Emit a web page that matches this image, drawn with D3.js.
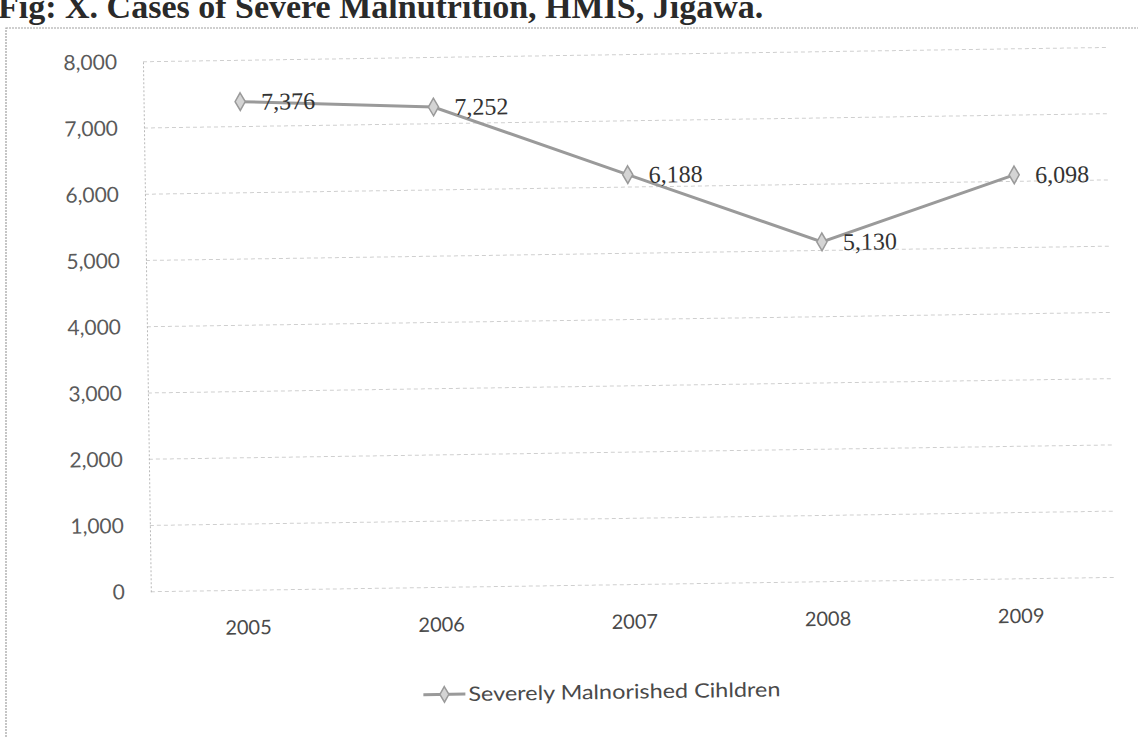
<!DOCTYPE html>
<html>
<head>
<meta charset="utf-8">
<script src="https://cdn.jsdelivr.net/npm/d3@7"></script>
<style>
  body { margin: 0; background: #fff; }
  svg { display: block; }
</style>
</head>
<body>
<svg id="chart"></svg>
<script>
// Figure title and series
const titleText = "Fig: X. Cases of Severe Malnutrition, HMIS, Jigawa.";
const seriesName = "Severely Malnorished Cihldren";
const years = ["2005", "2006", "2007", "2008", "2009"];
const cases = [7376, 7252, 6188, 5130, 6098];
const yTicks = [0, 1000, 2000, 3000, 4000, 5000, 6000, 7000, 8000];

const width = 1138;
const height = 737;
const plot = { left: 147, right: 1113, top: 55, bottom: 585 };

const chart = d3.select("#chart")
  .attr("width", width)
  .attr("height", height);

// title sits above the chart frame, top of it runs off the page
chart.append("text")
  .attr("x", -2)
  .attr("y", 18)
  .attr("font-family", "'Liberation Serif', 'Times New Roman', serif")
  .attr("font-weight", "bold")
  .attr("font-size", 34)
  .attr("fill", "#2a2a2a")
  .text(titleText);

// frame border
chart.append("rect")
  .attr("x", 6)
  .attr("y", 28)
  .attr("width", 1180)
  .attr("height", 760)
  .attr("fill", "none")
  .attr("stroke", "#a0a0a0")
  .attr("stroke-width", 1.2)
  .attr("stroke-dasharray", "2,1");

// the plotted chart is tilted slightly
const g = chart.append("g")
  .attr("transform", "rotate(-0.85, 600, 330)");

// scales
const xScale = d3.scalePoint()
  .domain(years)
  .range([plot.left, plot.right])
  .padding(0.5);

const yScale = d3.scaleLinear()
  .domain([0, 8000])
  .range([plot.bottom, plot.top]);

// horizontal gridlines
g.append("g")
  .selectAll("line")
  .data(yTicks)
  .join("line")
  .attr("x1", plot.left)
  .attr("x2", plot.right)
  .attr("y1", d => yScale(d))
  .attr("y2", d => yScale(d))
  .attr("stroke", "#cfcfcf")
  .attr("stroke-width", 1)
  .attr("stroke-dasharray", "4,3");

// y axis
const yAxis = d3.axisLeft(yScale)
  .tickValues(yTicks)
  .tickFormat(d3.format(","))
  .tickSize(0)
  .tickPadding(26);

const yAxisG = g.append("g")
  .attr("class", "y axis")
  .attr("transform", `translate(${plot.left},0)`)
  .call(yAxis);

yAxisG.select(".domain")
  .attr("stroke", "#b8b8b8")
  .attr("stroke-dasharray", "2,2");

yAxisG.selectAll("text")
  .attr("font-family", "Lato, 'Open Sans', sans-serif")
  .attr("font-size", 21)
  .attr("fill", "#5a5a5a");

// x axis labels
const xAxis = d3.axisBottom(xScale)
  .tickSize(0)
  .tickPadding(30);

const xAxisG = g.append("g")
  .attr("class", "x axis")
  .attr("transform", `translate(0,${plot.bottom})`)
  .call(xAxis);

xAxisG.select(".domain").remove();
xAxisG.selectAll("text")
  .attr("font-family", "Lato, 'Open Sans', sans-serif")
  .attr("font-size", 20)
  .attr("fill", "#4a4a4a");

// series line
const line = d3.line()
  .x((d, i) => xScale(years[i]))
  .y(d => yScale(d));

g.append("path")
  .datum(cases)
  .attr("fill", "none")
  .attr("stroke", "#9a9a9a")
  .attr("stroke-width", 3)
  .attr("d", line);

const diamond = d3.symbol().type(d3.symbolDiamond).size(90);

g.append("g")
  .selectAll("path")
  .data(cases)
  .join("path")
  .attr("transform", (d, i) => `translate(${xScale(years[i])},${yScale(d)})`)
  .attr("d", diamond)
  .attr("fill", "#d4d4d4")
  .attr("stroke", "#9a9a9a")
  .attr("stroke-width", 1.5);

// data labels
g.append("g")
  .selectAll("text")
  .data(cases)
  .join("text")
  .attr("x", (d, i) => xScale(years[i]) + 21)
  .attr("y", d => yScale(d))
  .attr("dy", "0.35em")
  .attr("font-family", "'Liberation Serif', 'DejaVu Serif', serif")
  .attr("font-size", 24)
  .attr("fill", "#333")
  .text(d3.format(","));

// legend
const legend = g.append("g")
  .attr("transform", "translate(418,692)");

legend.append("line")
  .attr("x1", 0)
  .attr("x2", 42)
  .attr("stroke", "#9a9a9a")
  .attr("stroke-width", 3);

legend.append("path")
  .attr("transform", "translate(21,0)")
  .attr("d", d3.symbol().type(d3.symbolDiamond).size(70))
  .attr("fill", "#d4d4d4")
  .attr("stroke", "#9a9a9a")
  .attr("stroke-width", 1.5);

legend.append("text")
  .attr("x", 45)
  .attr("dy", "0.35em")
  .attr("font-family", "Lato, 'Open Sans', sans-serif")
  .attr("font-size", 20)
  .attr("fill", "#4a4a4a")
  .attr("textLength", 312)
  .attr("lengthAdjust", "spacingAndGlyphs")
  .text(seriesName);
</script>
</body>
</html>
